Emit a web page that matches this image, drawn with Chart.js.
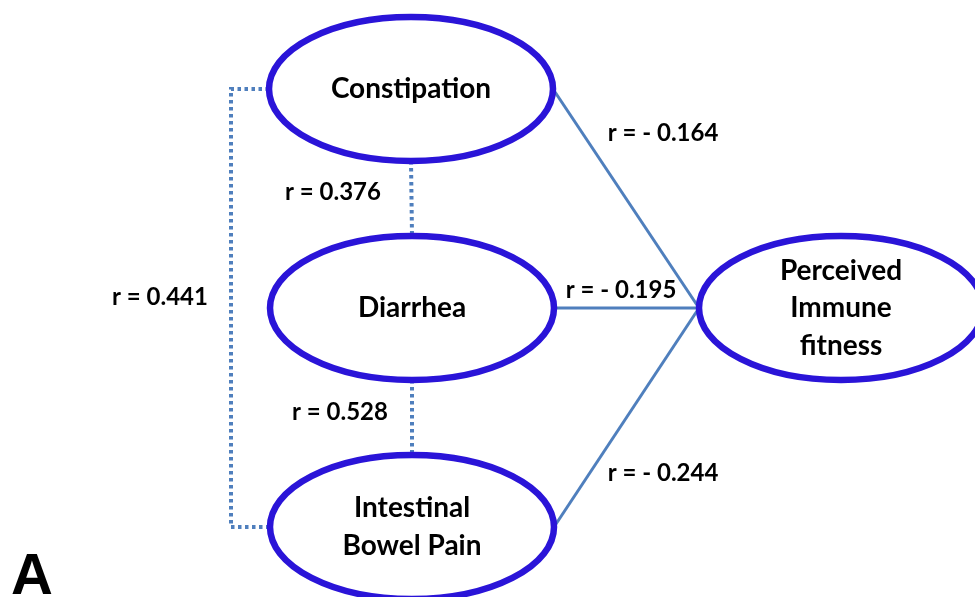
<!DOCTYPE html>
<html>
<head>
<meta charset="utf-8">
<script src="https://cdn.jsdelivr.net/npm/chart.js@4/dist/chart.umd.min.js"></script>
<style>
  html, body { margin: 0; padding: 0; background: #fff; }
  canvas { display: block; }
</style>
</head>
<body>
<canvas id="diagram" width="975" height="597"></canvas>
<script>
// nodes of the diagram
const nodes = ['Constipation', 'Diarrhea', 'Intestinal\nBowel Pain', 'Perceived\nImmune\nfitness'];

// correlations between the symptoms (dotted links)
const symptomPairs = [[0, 1], [1, 2], [0, 2]];
const symptomR = [0.376, 0.528, 0.441];

// correlations of each symptom with the outcome (solid links)
const outcomeLinks = [[0, 3], [1, 3], [2, 3]];
const outcomeR = [-0.164, -0.195, -0.244];

const panelLabel = 'A';

// layout (page units, y down)
const nodeX = [411, 412, 412, 841];
const nodeY = [89, 308, 527, 308];
const radX = 142;
const radY = 72;
const bracketX = 231;
const symptomLabelPos = [[333, 192], [340, 412], [160, 297]];
const outcomeLabelPos = [[663, 133], [621, 290], [663, 473]];

const ellipseColor = '#2a14d8';
const linkColor = '#4f7fbd';

function fmt(v) {
    return v < 0 ? 'r = - ' + Math.abs(v).toFixed(3) : 'r = ' + v.toFixed(3);
}

function rightOf(i) { return { x: nodeX[i] + radX, y: nodeY[i] }; }
function leftOf(i) { return { x: nodeX[i] - radX, y: nodeY[i] }; }
function topOf(i) { return { x: nodeX[i], y: nodeY[i] - radY }; }
function bottomOf(i) { return { x: nodeX[i], y: nodeY[i] + radY }; }

const datasets = [];

outcomeLinks.forEach(function (p) {
    datasets.push({
        data: [rightOf(p[0]), leftOf(p[1])],
        borderColor: linkColor,
        borderWidth: 3,
        showLine: true,
        pointRadius: 0
    });
});

symptomPairs.forEach(function (p, i) {
    let pts;
    if (i < 2) {
        pts = [bottomOf(p[0]), topOf(p[1])];
    } else {
        pts = [leftOf(p[0]), { x: bracketX, y: nodeY[p[0]] },
               { x: bracketX, y: nodeY[p[1]] }, leftOf(p[1])];
    }
    datasets.push({
        data: pts,
        borderColor: linkColor,
        borderWidth: 4,
        borderDash: [3.5, 3.5],
        borderCapStyle: 'butt',
        showLine: true,
        pointRadius: 0
    });
});

const diagramPlugin = {
    id: 'diagram',
    afterDatasetsDraw(chart) {
        const ctx = chart.ctx;
        const xs = chart.scales.x;
        const ys = chart.scales.y;
        const px = v => xs.getPixelForValue(v);
        const py = v => ys.getPixelForValue(v);

        ctx.save();
        nodes.forEach(function (name, i) {
            const cx = px(nodeX[i]);
            const cy = py(nodeY[i]);
            const rx = px(nodeX[i] + radX) - cx;
            const ry = py(nodeY[i] + radY) - cy;
            ctx.beginPath();
            ctx.ellipse(cx, cy, rx, ry, 0, 0, Math.PI * 2);
            ctx.fillStyle = '#fff';
            ctx.fill();
            ctx.lineWidth = 6.5;
            ctx.strokeStyle = ellipseColor;
            ctx.stroke();

            const lines = name.split('\n');
            ctx.fillStyle = '#000';
            ctx.font = 'bold 28px Lato';
            ctx.textAlign = 'center';
            ctx.textBaseline = 'middle';
            const lh = 37.5;
            lines.forEach(function (t, k) {
                ctx.fillText(t, cx, cy + (k - (lines.length - 1) / 2) * lh);
            });
        });

        ctx.font = 'bold 24px Lato';
        ctx.fillStyle = '#000';
        symptomR.forEach(function (v, i) {
            ctx.fillText(fmt(v), px(symptomLabelPos[i][0]), py(symptomLabelPos[i][1]));
        });
        outcomeR.forEach(function (v, i) {
            ctx.fillText(fmt(v), px(outcomeLabelPos[i][0]), py(outcomeLabelPos[i][1]));
        });

        ctx.font = 'bold 58px "Liberation Sans"';
        ctx.textAlign = 'left';
        ctx.textBaseline = 'alphabetic';
        ctx.fillText(panelLabel, px(11), py(594));
        ctx.restore();
    }
};

new Chart(document.getElementById('diagram'), {
    type: 'scatter',
    data: { datasets: datasets },
    options: {
        responsive: false,
        animation: false,
        layout: { padding: 0 },
        scales: {
            x: { type: 'linear', min: 0, max: 975, display: false },
            y: { type: 'linear', min: 0, max: 597, reverse: true, display: false }
        },
        plugins: {
            legend: { display: false },
            tooltip: { enabled: false }
        }
    },
    plugins: [diagramPlugin]
});
</script>
</body>
</html>
